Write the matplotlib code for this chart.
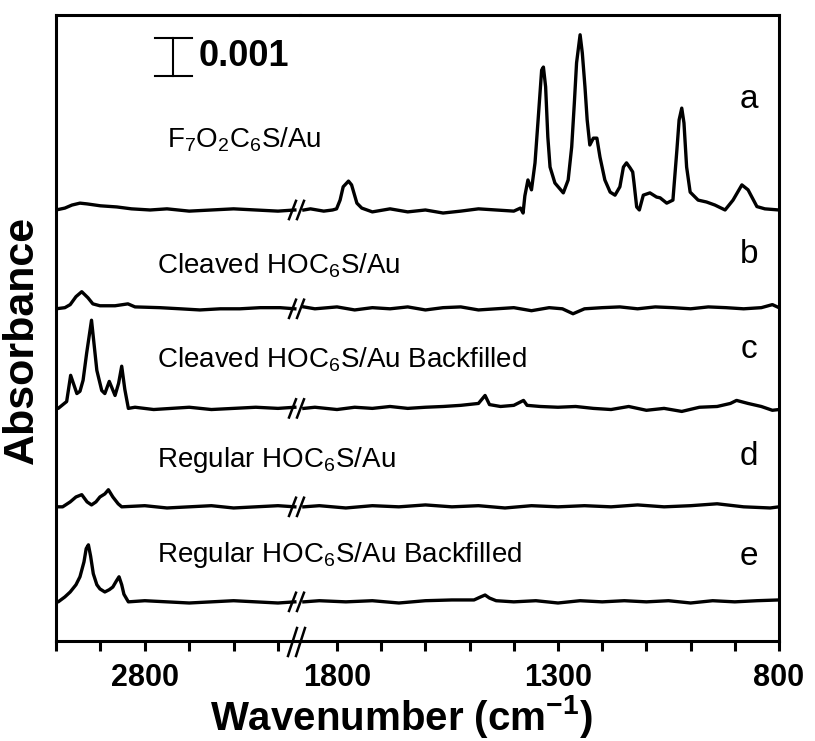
"""
Stacked IRRAS spectra (a-e) with a broken wavenumber axis.
"""

import matplotlib
matplotlib.use('Agg')
import numpy as np
import matplotlib.pyplot as plt
from matplotlib import font_manager, transforms

plt.rcParams['font.family'] = ['Liberation Sans', 'DejaVu Sans']
plt.rcParams['mathtext.fontset'] = 'custom'
plt.rcParams['mathtext.rm'] = 'Liberation Sans'
plt.rcParams['mathtext.it'] = 'Liberation Sans:italic'
plt.rcParams['mathtext.bf'] = 'Liberation Sans:bold'

# Spectra: wavenumber (cm-1) and absorbance above baseline (units of 0.001)
wn_a = [3000, 2980, 2964, 2946, 2930, 2900, 2863, 2830, 2788, 2750, 2700, 2650, 2600, 2550, 2500, 2462,
        1875, 1860, 1830, 1810, 1801, 1793, 1786, 1774, 1767, 1755, 1744, 1720, 1680, 1640, 1600, 1560,
        1520, 1480, 1440, 1400, 1385, 1379, 1375, 1368, 1360, 1352, 1345, 1337, 1333, 1328, 1323, 1318,
        1307, 1288, 1277, 1269, 1263, 1258, 1250, 1245, 1239, 1234, 1228, 1220, 1212, 1205, 1194, 1182,
        1171, 1160, 1152, 1145, 1137, 1131, 1128, 1122, 1116, 1107, 1092, 1077, 1069, 1054, 1040, 1031,
        1026, 1020, 1015, 1009, 1001, 983, 964, 945, 922, 904, 884, 870, 850, 832, 800]
abs_a = [0.0, 0.05, 0.13, 0.18, 0.16, 0.11, 0.08, 0.03, 0.0, 0.03, -0.03, 0.0, 0.03, 0.0, -0.03, 0.0,
         0.0, 0.03, -0.03, 0.0, 0.03, 0.26, 0.61, 0.76, 0.66, 0.18, 0.05, -0.05, 0.03, -0.05, 0.0, -0.08,
         -0.03, 0.03, 0.0, -0.03, 0.05, -0.08, 0.37, 0.79, 0.53, 1.24, 2.37, 3.68, 3.76, 3.24, 1.92, 1.13,
         0.71, 0.45, 0.79, 1.66, 2.82, 3.87, 4.61, 4.13, 3.24, 2.37, 1.71, 1.89, 1.89, 1.39, 0.79, 0.47,
         0.39, 0.61, 1.13, 1.24, 1.11, 1.0, 0.71, 0.08, 0.0, 0.39, 0.45, 0.34, 0.32, 0.18, 0.26, 1.58,
         2.37, 2.68, 2.29, 1.13, 0.47, 0.26, 0.21, 0.13, 0.0, 0.26, 0.66, 0.53, 0.09, 0.03, 0.0]

wn_b = [3000, 2980, 2968, 2955, 2942, 2928, 2917, 2901, 2867, 2838, 2822, 2766, 2720, 2676, 2630, 2586,
        2540, 2495, 2462,
        1875, 1850, 1800, 1760, 1720, 1680, 1640, 1600, 1560, 1520, 1480, 1440, 1400, 1360, 1320, 1290,
        1266, 1240, 1200, 1160, 1120, 1080, 1040, 1000, 960, 920, 880, 840, 815, 800]
abs_b = [0.0, 0.03, 0.11, 0.32, 0.45, 0.29, 0.13, 0.08, 0.08, 0.13, 0.05, 0.03, 0.0, -0.03, 0.0, 0.0,
         0.03, 0.03, 0.0,
         0.05, 0.0, 0.05, -0.03, 0.03, 0.0, 0.05, -0.03, 0.03, 0.05, -0.03, 0.0, 0.03, -0.05, 0.03, 0.0,
         -0.13, 0.0, 0.03, 0.05, 0.0, 0.05, 0.03, 0.0, 0.05, 0.03, 0.0, 0.03, 0.11, 0.03]

wn_c = [3000, 2995, 2976, 2967, 2953, 2946, 2939, 2931, 2920, 2908, 2897, 2890, 2880, 2867, 2859, 2852,
        2845, 2837, 2822, 2780, 2740, 2700, 2650, 2600, 2550, 2500, 2462,
        1875, 1850, 1800, 1760, 1720, 1680, 1640, 1600, 1560, 1520, 1480, 1465, 1455, 1430, 1400, 1378,
        1370, 1340, 1300, 1260, 1220, 1180, 1140, 1100, 1060, 1020, 980, 940, 910, 896, 870, 840, 815, 800]
abs_c = [0.0, 0.0, 0.18, 0.87, 0.39, 0.45, 0.74, 1.45, 2.32, 1.0, 0.47, 0.39, 0.71, 0.34, 0.66, 1.11,
         0.5, 0.0, 0.03, -0.03, 0.0, 0.03, -0.03, 0.0, 0.03, 0.0, 0.03,
         0.0, 0.03, -0.03, 0.03, 0.0, 0.05, 0.0, 0.03, 0.05, 0.08, 0.13, 0.34, 0.1, 0.05, 0.08, 0.21,
         0.08, 0.05, 0.03, 0.05, 0.0, -0.03, 0.05, -0.05, 0.0, -0.08, 0.03, 0.05, 0.13, 0.21, 0.13, 0.05,
         -0.05, -0.03]

wn_d = [3000, 2985, 2968, 2955, 2942, 2930, 2920, 2910, 2901, 2890, 2882, 2872, 2860, 2852, 2800, 2750,
        2700, 2650, 2600, 2550, 2500, 2462,
        1875, 1840, 1780, 1720, 1660, 1600, 1540, 1480, 1420, 1360, 1300, 1240, 1180, 1120, 1060, 1000,
        940, 880, 820, 800]
abs_d = [0.0, 0.0, 0.13, 0.26, 0.32, 0.13, 0.05, 0.13, 0.26, 0.34, 0.45, 0.26, 0.08, 0.0, 0.03, -0.03,
         0.0, 0.03, -0.03, 0.0, 0.03, 0.0,
         0.0, 0.03, -0.03, 0.03, 0.0, 0.05, 0.0, 0.03, -0.03, 0.03, 0.0, 0.03, 0.0, 0.05, 0.0, 0.03,
         0.08, 0.0, -0.03, 0.0]

wn_e = [3000, 2995, 2980, 2968, 2955, 2946, 2937, 2932, 2927, 2922, 2916, 2908, 2901, 2890, 2880, 2872,
        2864, 2858, 2852, 2847, 2837, 2800, 2750, 2700, 2650, 2600, 2550, 2500, 2462,
        1875, 1840, 1780, 1720, 1660, 1600, 1540, 1490, 1475, 1465, 1455, 1440, 1400, 1350, 1300, 1250,
        1200, 1150, 1100, 1050, 1000, 950, 900, 850, 800]
abs_e = [0.0, 0.0, 0.13, 0.26, 0.45, 0.66, 1.05, 1.4, 1.5, 1.2, 0.74, 0.45, 0.34, 0.26, 0.32, 0.39,
         0.55, 0.66, 0.45, 0.2, 0.0, 0.03, 0.0, -0.03, 0.0, 0.03, 0.0, -0.03, 0.0,
         0.0, 0.03, 0.0, 0.03, -0.03, 0.03, 0.05, 0.05, 0.13, 0.18, 0.1, 0.03, 0.0, 0.03, -0.03, 0.03,
         0.0, 0.03, 0.0, 0.03, -0.03, 0.03, 0.0, 0.03, 0.05]

wavenumbers = [wn_a, wn_b, wn_c, wn_d, wn_e]
absorbances = [abs_a, abs_b, abs_c, abs_d, abs_e]
offsets = [11.34, 8.74, 6.12, 3.53, 1.03]
letters = ['a', 'b', 'c', 'd', 'e']
sample_names = [r'F$_7$O$_2$C$_6$S/Au',
                r'Cleaved HOC$_6$S/Au',
                r'Cleaved HOC$_6$S/Au Backfilled',
                r'Regular HOC$_6$S/Au',
                r'Regular HOC$_6$S/Au Backfilled']

left_ticks = [3000, 2900, 2800, 2700, 2600, 2500]
right_ticks = [1800, 1700, 1600, 1500, 1400, 1300, 1200, 1100, 1000, 900, 800]
labelled_ticks = [2800, 1800, 1300, 800]

W, H = 815, 741


def fx(px):
    return px / W


def fy(py):
    return 1 - py / H


names = {f.name for f in font_manager.fontManager.ttflist}
tick_family = 'Liberation Sans Narrow' if 'Liberation Sans Narrow' in names else 'Liberation Sans'

fig = plt.figure(figsize=(8.15, 7.41), dpi=100)
bottom, top = fy(641), fy(15)
ax_l = fig.add_axes([fx(56), bottom, fx(300) - fx(56), top - bottom])
ax_r = fig.add_axes([fx(300), bottom, fx(779) - fx(300), top - bottom], sharey=ax_l)

ax_l.set_xlim(3000, 2450.4)
ax_r.set_xlim(1883.7, 800)
ax_l.set_ylim(0, 16.47)

# Traces: left part on the left axis, right part on the right axis
for wn, ab, off in zip(wavenumbers, absorbances, offsets):
    wn = np.array(wn)
    y = np.array(ab) + off
    hi = wn > 2400
    ax_l.plot(wn[hi], y[hi], color='black', lw=2.4, solid_joinstyle='round')
    ax_r.plot(wn[~hi], y[~hi], color='black', lw=2.4, solid_joinstyle='round')

# Axes styling
for ax in (ax_l, ax_r):
    for sp in ax.spines.values():
        sp.set_linewidth(2.2)
    ax.tick_params(axis='x', direction='out', length=7, width=2.2, pad=9)
    ax.tick_params(axis='y', left=False, right=False, labelleft=False)
ax_l.spines['right'].set_visible(False)
ax_r.spines['left'].set_visible(False)

for ax, ticks in ((ax_l, left_ticks), (ax_r, right_ticks)):
    ax.set_xticks(ticks)
    ax.set_xticklabels([str(t) if t in labelled_ticks else '' for t in ticks],
                       fontfamily=tick_family, fontweight='bold', fontsize=22)

# Break marks on each trace and on the bottom axis
trans = transforms.blended_transform_factory(fig.transFigure, ax_r.transData)
for off in offsets:
    for x0 in (289, 297):
        ax_r.plot([fx(x0), fx(x0 + 7)], [off - 0.24, off + 0.24], color='black',
                  lw=1.8, transform=trans, clip_on=False)
for x0 in (288, 296):
    fig.add_artist(plt.Line2D([fx(x0), fx(x0 + 9)], [fy(656), fy(628)], color='black', lw=1.8))

# Scale bar (0.001 absorbance)
bar_x = 2736
ax_l.plot([bar_x, bar_x], [14.87, 15.87], color='black', lw=1.5)
ax_l.plot([2777, 2694], [14.87, 14.87], color='black', lw=1.5)
ax_l.plot([2777, 2694], [15.87, 15.87], color='black', lw=1.5)
ax_l.text(2678, 15.37, '0.001', fontsize=26, fontweight='bold', ha='left', va='center')

# Sample names and letters
name_pos = [(167, 147), (157, 273), (157, 368), (157, 467), (157, 562)]
letter_base = [108, 263, 358, 465, 565]
for name, (px, py) in zip(sample_names, name_pos):
    fig.text(fx(px), fy(py), name, fontsize=20, ha='left', va='baseline')
for letter, py in zip(letters, letter_base):
    fig.text(fx(749), fy(py), letter, fontsize=24, ha='center', va='baseline')

fig.text(fx(401), fy(716), r'Wavenumber (cm$^{\mathbf{-1}}$)', fontsize=29, fontweight='bold',
         ha='center', va='center')
fig.text(fx(22), fy(340), 'Absorbance', fontsize=31, fontweight='bold', rotation=90,
         ha='center', va='center')

fig.savefig('out.png', dpi=100)
